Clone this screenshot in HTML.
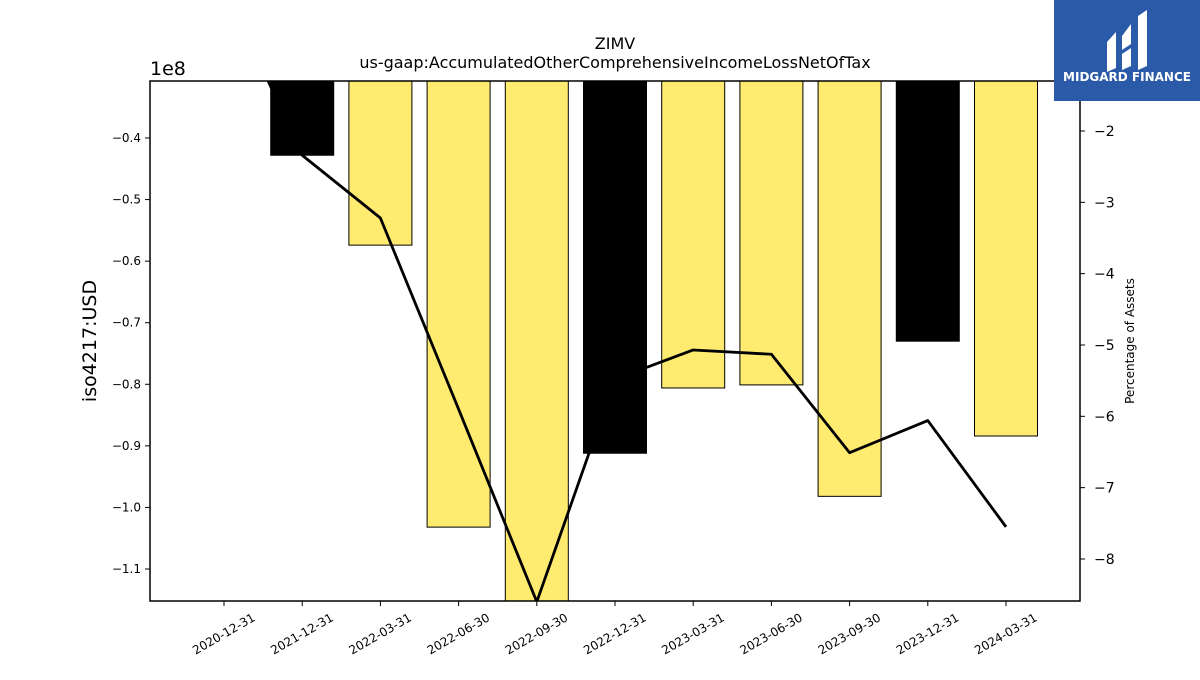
<!DOCTYPE html>
<html><head><meta charset="utf-8"><style>
body{margin:0;background:#fff;width:1200px;height:675px;overflow:hidden;font-family:"Liberation Sans","DejaVu Sans",sans-serif}
svg text{font-family:"DejaVu Sans","Liberation Sans",sans-serif}
</style></head><body>
<svg id="c" width="1200" height="675" xmlns="http://www.w3.org/2000/svg">
<defs><clipPath id="pc"><rect x="150" y="81" width="930" height="520"/></clipPath></defs>
<g id="bars" clip-path="url(#pc)"></g>
<g id="line" clip-path="url(#pc)"></g>
<rect x="150" y="81" width="930" height="520" fill="none" stroke="#000" stroke-width="1.5"/>
<g id="axes"></g>
<text x="615" y="49" text-anchor="middle" font-size="16">ZIMV</text>
<text x="615" y="68" text-anchor="middle" font-size="16">us-gaap:AccumulatedOtherComprehensiveIncomeLossNetOfTax</text>
<text x="150" y="75" font-size="19">1e8</text>
<text transform="translate(96,341) rotate(-90)" text-anchor="middle" font-size="19">iso4217:USD</text>
<text transform="translate(1134,341) rotate(-90)" text-anchor="middle" font-size="12">Percentage of Assets</text>
<g>
<rect x="1054" y="0" width="146" height="101" fill="#2b5aa8"/>
<path d="M1107 42 L1116 32 L1116 68 L1107 72 Z M1122 36 L1131 24 L1131 44 L1122 50 Z M1122 54 L1131 48 L1131 66 L1122 70 Z M1138 16 L1147 10 L1147 66 L1138 70 Z" fill="#fff"/>
<text x="1127" y="81" text-anchor="middle" font-size="12" font-weight="bold" fill="#fff">MIDGARD FINANCE</text>
</g>
</svg>
<script>
const categories=["2020-12-31","2021-12-31","2022-03-31","2022-06-30","2022-09-30","2022-12-31","2023-03-31","2023-06-30","2023-09-30","2023-12-31","2024-03-31"];
const values=[0,-0.428e8,-0.574e8,-1.032e8,-1.152e8,-0.912e8,-0.806e8,-0.801e8,-0.982e8,-0.730e8,-0.884e8];
const barColors=["#000","#000","#ffeb70","#ffeb70","#ffeb70","#000","#ffeb70","#ffeb70","#ffeb70","#000","#ffeb70"];
const pct=[0.05,-2.34,-3.22,-5.9,-8.6,-5.48,-5.07,-5.13,-6.51,-6.06,-7.55];
const leftTicks=[-0.4,-0.5,-0.6,-0.7,-0.8,-0.9,-1.0,-1.1];
const rightTicks=[-2,-3,-4,-5,-6,-7,-8];
const NS="http://www.w3.org/2000/svg";
const x=i=>224+i*78.2;
const yL=v=>138+(-0.4-v/1e8)*615.7;
const yR=v=>131+(-2-v)*71.33;
function mk(t,a,p){const e=document.createElementNS(NS,t);for(const k in a)e.setAttribute(k,a[k]);p.appendChild(e);return e;}
const bars=document.getElementById('bars'),line=document.getElementById('line'),axes=document.getElementById('axes');
values.forEach((v,i)=>{const top=81,b=yL(v);if(b<=top)return;
const r=mk('rect',{x:x(i)-31.5,y:top,width:63,height:b-top,fill:barColors[i],stroke:'#000','stroke-width':1},bars);

});
const pl=mk('polyline',{points:pct.map((p,i)=>x(i)+','+yR(p)).join(' '),fill:'none',stroke:'#000','stroke-width':2.8,'stroke-linejoin':'round'},line);


leftTicks.forEach(t=>{const y=yL(t*1e8);
mk('line',{x1:145,x2:150,y1:y,y2:y,stroke:'#000'},axes);
const s=mk('text',{x:141,y:y+4,'text-anchor':'end','font-size':12},axes);s.textContent=(t.toFixed(1)).replace('-','\u2212');

});
rightTicks.forEach(t=>{const y=yR(t);
mk('line',{x1:1080,x2:1085,y1:y,y2:y,stroke:'#000'},axes);
const s=mk('text',{x:1094,y:y+5,'font-size':14},axes);s.textContent=String(t).replace('-','\u2212');

});
categories.forEach((c,i)=>{const X=x(i);
mk('line',{x1:X,x2:X,y1:601,y2:606,stroke:'#000'},axes);
const s=mk('text',{transform:`translate(${X+32},620) rotate(-30)`,'text-anchor':'end','font-size':12},axes);s.textContent=c;

});
</script>
</body></html>
